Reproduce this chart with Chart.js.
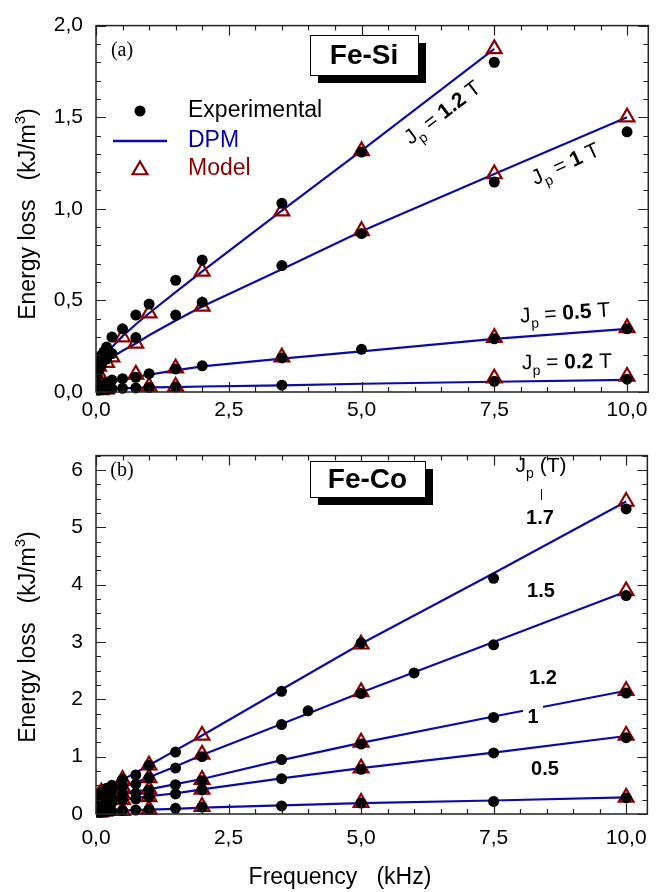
<!DOCTYPE html>
<html>
<head>
<meta charset="utf-8">
<script src="https://cdn.jsdelivr.net/npm/chart.js@4.4.0/dist/chart.umd.min.js"></script>
<style>
  html, body { margin: 0; padding: 0; background: #fff; }
  #wrap { position: relative; width: 659px; height: 892px; }
  canvas { position: absolute; left: 0; }
  #top { top: 0; }
  #bot { top: 430px; }
</style>
</head>
<body>
<div id="wrap">
  <canvas id="top" width="659" height="430" style="width:659px;height:430px"></canvas>
  <canvas id="bot" width="659" height="462" style="width:659px;height:462px"></canvas>
</div>
<script>
const FONT = '"Liberation Sans", Arial, Helvetica, sans-serif';
const BLUE = '#0c0ca4';
const RED = '#8b0000';

// ---------- (a) Fe-Si ----------
// experimental
const siF12exp = [0.02, 0.05, 0.1, 0.15, 0.2, 0.3, 0.5, 0.75, 1, 1.5, 2, 3.5, 5, 7.5];
const siE12exp = [0.12, 0.16, 0.2, 0.22, 0.245, 0.30, 0.345, 0.42, 0.48, 0.61, 0.72, 1.03, 1.31, 1.80];
const siF10exp = [0.02, 0.05, 0.1, 0.2, 0.3, 0.75, 1.5, 2, 3.5, 5, 7.5, 10];
const siE10exp = [0.09, 0.12, 0.15, 0.18, 0.21, 0.297, 0.42, 0.49, 0.69, 0.865, 1.146, 1.42];
const siF05exp = [0.02, 0.05, 0.1, 0.2, 0.3, 0.5, 0.75, 1, 1.5, 2, 3.5, 5, 7.5, 10];
const siE05exp = [0.02, 0.03, 0.04, 0.05, 0.065, 0.073, 0.08, 0.10, 0.126, 0.143, 0.186, 0.233, 0.29, 0.345];
const siF02exp = [0.05, 0.1, 0.2, 0.3, 0.5, 0.75, 1, 1.5, 3.5, 7.5, 10];
const siE02exp = [0.01, 0.012, 0.015, 0.018, 0.02, 0.022, 0.025, 0.027, 0.037, 0.058, 0.07];
// model
const siF12mod = [0.05, 0.5, 1, 2, 3.5, 5, 7.5];
const siE12mod = [0.14, 0.30, 0.43, 0.658, 0.987, 1.316, 1.873];
const siF10mod = [0.05, 0.2, 0.3, 0.75, 2, 5, 7.5, 10];
const siE10mod = [0.10, 0.16, 0.19, 0.265, 0.467, 0.88, 1.19, 1.50];
const siF05mod = [0.05, 0.1, 0.75, 1.5, 3.5, 7.5, 10];
const siE05mod = [0.035, 0.045, 0.096, 0.13, 0.19, 0.297, 0.35];
const siF02mod = [0.1, 0.2, 1, 1.5, 7.5, 10];
const siE02mod = [0.012, 0.015, 0.03, 0.03, 0.075, 0.085];
// DPM
const siFdpm = [0.02, 0.05, 0.1, 0.2, 0.3, 0.5, 0.75, 1, 1.5, 2, 3.5, 5, 7.5, 10];
const siE12dpm = [0.11, 0.14, 0.17, 0.21, 0.245, 0.305, 0.37, 0.43, 0.545, 0.658, 0.99, 1.318, 1.873];
const siE10dpm = [0.08, 0.10, 0.12, 0.16, 0.19, 0.225, 0.265, 0.31, 0.39, 0.467, 0.67, 0.878, 1.19, 1.50];
const siE05dpm = [0.02, 0.03, 0.04, 0.05, 0.058, 0.068, 0.082, 0.095, 0.118, 0.14, 0.182, 0.222, 0.29, 0.345];
const siE02dpm = [0.008, 0.01, 0.012, 0.015, 0.017, 0.02, 0.022, 0.025, 0.027, 0.03, 0.036, 0.045, 0.056, 0.066];

// ---------- (b) Fe-Co ----------
const coF17exp = [0.05, 0.1, 0.2, 0.3, 0.5, 0.75, 1, 1.5, 3.5, 5, 7.5, 10];
const coE17exp = [0.3, 0.37, 0.45, 0.5, 0.6, 0.68, 0.85, 1.08, 2.14, 2.98, 4.11, 5.32];
const coF15exp = [0.05, 0.1, 0.2, 0.3, 0.5, 0.75, 1, 1.5, 2, 3.5, 4, 5, 6, 7.5, 10];
const coE15exp = [0.24, 0.3, 0.36, 0.4, 0.47, 0.52, 0.63, 0.8, 1.0, 1.56, 1.8, 2.1, 2.46, 2.95, 3.81];
const coFexp = [0.05, 0.1, 0.2, 0.3, 0.5, 0.75, 1, 1.5, 2, 3.5, 5, 7.5, 10];
const coE12exp = [0.16, 0.2, 0.25, 0.28, 0.34, 0.36, 0.42, 0.51, 0.58, 0.95, 1.22, 1.685, 2.11];
const coE10exp = [0.11, 0.14, 0.18, 0.2, 0.25, 0.26, 0.3, 0.35, 0.42, 0.615, 0.78, 1.065, 1.33];
const coE05exp = [0.03, 0.035, 0.045, 0.05, 0.06, 0.07, 0.08, 0.1, 0.12, 0.14, 0.19, 0.22, 0.28];
const coFmod = [0.05, 0.1, 0.5, 1, 2, 5, 10];
const coE17mod = [0.32, 0.38, 0.6, 0.85, 1.37, 2.96, 5.45];
const coE15mod = [0.25, 0.3, 0.47, 0.63, 1.04, 2.13, 3.89];
const coE12mod = [0.17, 0.2, 0.34, 0.43, 0.6, 1.25, 2.15];
const coE10mod = [0.11, 0.14, 0.25, 0.3, 0.43, 0.8, 1.37];
const coE05mod = [0.03, 0.035, 0.06, 0.08, 0.13, 0.2, 0.29];
const coFdpm = [0.02, 0.05, 0.1, 0.2, 0.3, 0.5, 0.75, 1, 1.5, 2, 3.5, 5, 7.5, 10];
const coE17dpm = [0.2, 0.3, 0.37, 0.45, 0.5, 0.6, 0.72, 0.85, 1.11, 1.37, 2.17, 2.97, 4.2, 5.45];
const coE15dpm = [0.17, 0.24, 0.3, 0.36, 0.4, 0.46, 0.55, 0.64, 0.83, 1.03, 1.57, 2.12, 3.0, 3.88];
const coE12dpm = [0.12, 0.16, 0.2, 0.25, 0.28, 0.34, 0.39, 0.43, 0.52, 0.61, 0.94, 1.24, 1.7, 2.15];
const coE10dpm = [0.08, 0.11, 0.14, 0.18, 0.2, 0.25, 0.28, 0.31, 0.36, 0.43, 0.62, 0.8, 1.07, 1.36];
const coE05dpm = [0.02, 0.03, 0.035, 0.045, 0.05, 0.06, 0.07, 0.077, 0.09, 0.11, 0.15, 0.19, 0.235, 0.29];

const xTicks = [0, 2.5, 5, 7.5, 10];
const siYTicks = [0, 0.5, 1, 1.5, 2];
const coYTicks = [0, 1, 2, 3, 4, 5, 6];

function pts(xs, ys) {
  return ys.map((y, i) => ({x: xs[i], y: y}));
}

function expSet(xs, ys) {
  return {data: pts(xs, ys), pointStyle: 'circle', pointRadius: 5.5, pointBackgroundColor: '#000',
    pointBorderColor: '#000', pointBorderWidth: 0, showLine: false,
    clip: {left: 0, top: false, right: false, bottom: false}};
}
function modSet(xs, ys) {
  return {data: pts(xs, ys), pointStyle: 'triangle', pointRadius: 8.5, pointBackgroundColor: 'rgba(0,0,0,0)',
    pointBorderColor: RED, pointBorderWidth: 2.2, showLine: false,
    clip: {left: 0, top: false, right: false, bottom: false}};
}
function dpmSet(xs, ys) {
  return {data: pts(xs, ys), showLine: true, borderColor: BLUE, borderWidth: 2.2, pointRadius: 0,
    tension: 0, clip: 0};
}

function fmtComma(v) { return v.toFixed(1).replace('.', ','); }

// inward ticks + frame, minor ticks between the labelled ones
function framePlugin(minorX, majorX, minorY, majorY) {
  return {
    id: 'frame',
    afterDatasetsDraw(chart) {
      const {ctx, chartArea: a, scales: {x, y}} = chart;
      ctx.save();
      ctx.strokeStyle = '#222';
      ctx.lineWidth = 1.5;
      ctx.strokeRect(a.left, a.top, a.right - a.left, a.bottom - a.top);
      ctx.lineWidth = 1.2;
      ctx.beginPath();
      for (let i = 0; i * minorX <= x.max + 1e-9; i++) {
        const v = i * minorX;
        const px = Math.round(x.getPixelForValue(v)) + 0.5;
        const len = Math.abs(v / majorX - Math.round(v / majorX)) < 1e-6 ? 10 : 5;
        ctx.moveTo(px, a.bottom); ctx.lineTo(px, a.bottom - len);
        ctx.moveTo(px, a.top); ctx.lineTo(px, a.top + len);
      }
      for (let i = 0; i * minorY <= y.max + 1e-9; i++) {
        const v = i * minorY;
        const py = Math.round(y.getPixelForValue(v)) + 0.5;
        const len = Math.abs(v / majorY - Math.round(v / majorY)) < 1e-6 ? 10 : 5;
        ctx.moveTo(a.left, py); ctx.lineTo(a.left + len, py);
        ctx.moveTo(a.right, py); ctx.lineTo(a.right - len, py);
      }
      ctx.stroke();
      ctx.restore();
    }
  };
}

function txt(ctx, s, x, y, size, opt) {
  opt = opt || {};
  ctx.font = (opt.bold ? 'bold ' : '') + size + 'px ' + (opt.family || FONT);
  ctx.fillStyle = opt.color || '#000';
  ctx.textAlign = opt.align || 'left';
  ctx.textBaseline = 'middle';
  ctx.fillText(s, x, y);
}

// text made of pieces (subscripts, bold numbers), centred at cx,cy, rotated
function pieces(ctx, cx, cy, ang, parts) {
  ctx.save();
  ctx.translate(cx, cy);
  ctx.rotate(ang * Math.PI / 180);
  ctx.textBaseline = 'alphabetic';
  ctx.textAlign = 'left';
  ctx.fillStyle = '#000';
  let w = 0;
  parts.forEach(p => { ctx.font = (p.b ? 'bold ' : '') + p.s + 'px ' + FONT; w += ctx.measureText(p.t).width; });
  let x = -w / 2;
  parts.forEach(p => {
    ctx.font = (p.b ? 'bold ' : '') + p.s + 'px ' + FONT;
    ctx.fillText(p.t, x, 7.5 + (p.dy || 0));
    x += ctx.measureText(p.t).width;
  });
  ctx.restore();
}

function jpLabel(val) {
  return [{t: 'J', s: 21}, {t: 'p', s: 14, dy: 6}, {t: ' = ', s: 21}, {t: val, s: 21, b: true}, {t: ' T', s: 21}];
}

function yTitle(ctx, cx, cy) {
  pieces(ctx, cx, cy, -90, [{t: 'Energy loss   (kJ/m', s: 23}, {t: '3', s: 15, dy: -10}, {t: ')', s: 23}]);
}

function boxLabel(ctx, s, x0, y0, x1, y1) {
  ctx.save();
  ctx.fillStyle = '#000';
  ctx.fillRect(x0 + 8, y0 + 8, x1 - x0, y1 - y0);
  ctx.fillStyle = '#fff';
  ctx.fillRect(x0, y0, x1 - x0, y1 - y0);
  ctx.strokeStyle = '#000';
  ctx.lineWidth = 1;
  ctx.strokeRect(x0 + 0.5, y0 + 0.5, x1 - x0, y1 - y0);
  txt(ctx, s, (x0 + x1) / 2, (y0 + y1) / 2 + 1, 28, {bold: true, align: 'center'});
  ctx.restore();
}

const topDecor = {
  id: 'topDecor',
  afterDraw(chart) {
    const ctx = chart.ctx;
    ctx.save();
    yTitle(ctx, 27, 214);
    txt(ctx, '(a)', 122, 51, 20, {family: '"Liberation Serif", "Times New Roman", serif', align: 'center'});
    boxLabel(ctx, 'Fe-Si', 310, 35, 418, 75);
    // legend
    ctx.fillStyle = '#000';
    ctx.beginPath(); ctx.arc(140, 111, 5.5, 0, Math.PI * 2); ctx.fill();
    txt(ctx, 'Experimental', 188, 111, 23);
    ctx.strokeStyle = BLUE; ctx.lineWidth = 2.5;
    ctx.beginPath(); ctx.moveTo(113, 141); ctx.lineTo(167, 141); ctx.stroke();
    txt(ctx, 'DPM', 188, 141, 23, {color: '#0000aa'});
    const r = 8.5;
    ctx.strokeStyle = RED; ctx.lineWidth = 2.2;
    ctx.beginPath();
    for (let k = 0; k < 3; k++) {
      const ang = k * 2 * Math.PI / 3;
      const px = 140 + Math.sin(ang) * r, py = 170 - Math.cos(ang) * r;
      if (k === 0) ctx.moveTo(px, py); else ctx.lineTo(px, py);
    }
    ctx.closePath(); ctx.stroke();
    txt(ctx, 'Model', 188, 169, 23, {color: RED});
    // Jp labels
    pieces(ctx, 442, 112, -37.5, jpLabel('1.2'));
    pieces(ctx, 565, 163, -25, jpLabel('1'));
    pieces(ctx, 565, 312, -4, jpLabel('0.5'));
    pieces(ctx, 567, 361, -1, jpLabel('0.2'));
    ctx.restore();
  }
};

const botDecor = {
  id: 'botDecor',
  afterDraw(chart) {
    const ctx = chart.ctx;
    ctx.save();
    yTitle(ctx, 27, 207);
    txt(ctx, '(b)', 122, 41, 20, {family: '"Liberation Serif", "Times New Roman", serif', align: 'center'});
    boxLabel(ctx, 'Fe-Co', 310, 31, 425, 67);
    pieces(ctx, 541, 34, 0, [{t: 'J', s: 21}, {t: 'p', s: 14, dy: 6}, {t: ' (T)', s: 21}]);
    ctx.strokeStyle = '#000'; ctx.lineWidth = 1;
    ctx.beginPath(); ctx.moveTo(541.5, 59); ctx.lineTo(541.5, 70); ctx.stroke();
    txt(ctx, '1.7', 540, 88, 20, {bold: true, align: 'center'});
    txt(ctx, '1.5', 541, 161, 20, {bold: true, align: 'center'});
    txt(ctx, '1.2', 543, 248, 20, {bold: true, align: 'center'});
    ctx.fillStyle = '#fff';
    ctx.fillRect(523, 273, 20, 26);
    txt(ctx, '1', 533, 287, 20, {bold: true, align: 'center'});
    txt(ctx, '0.5', 545, 339, 20, {bold: true, align: 'center'});
    txt(ctx, 'Frequency   (kHz)', 340, 448, 23, {align: 'center'});
    ctx.restore();
  }
};

function makeChart(id, datasets, yMax, yStep, yFmt, padTop, xHeight, xPad, plugins) {
  return new Chart(document.getElementById(id), {
    type: 'scatter',
    data: {datasets: datasets},
    options: {
      responsive: false,
      animation: false,
      devicePixelRatio: 1,
      layout: {padding: {left: 0, right: 4, top: padTop, bottom: 0}},
      plugins: {legend: {display: false}, tooltip: {enabled: false}},
      scales: {
        x: {
          type: 'linear', min: 0, max: 10.4,
          grid: {display: false, drawTicks: false},
          border: {display: false},
          ticks: {stepSize: 2.5, includeBounds: false, maxRotation: 0, padding: xPad, color: '#000',
            font: {family: FONT, size: 21, lineHeight: 1.2},
            callback: v => xTicks.includes(v) ? fmtComma(v) : ''},
          afterFit: s => { s.height = xHeight; }
        },
        y: {
          type: 'linear', min: 0, max: yMax,
          grid: {display: false, drawTicks: false},
          border: {display: false},
          ticks: {stepSize: yStep, includeBounds: false, padding: 13, color: '#000',
            font: {family: FONT, size: 21, lineHeight: 1.2},
            callback: yFmt},
          afterFit: s => { s.width = 96; }
        }
      }
    },
    plugins: plugins
  });
}

const topSets = [
  expSet(siF12exp, siE12exp), expSet(siF10exp, siE10exp), expSet(siF05exp, siE05exp), expSet(siF02exp, siE02exp),
  modSet(siF12mod, siE12mod), modSet(siF10mod, siE10mod), modSet(siF05mod, siE05mod), modSet(siF02mod, siE02mod),
  dpmSet(siFdpm, siE12dpm), dpmSet(siFdpm, siE10dpm), dpmSet(siFdpm, siE05dpm), dpmSet(siFdpm, siE02dpm)
];
const botSets = [
  expSet(coF17exp, coE17exp), expSet(coF15exp, coE15exp), expSet(coFexp, coE12exp), expSet(coFexp, coE10exp), expSet(coFexp, coE05exp),
  modSet(coFmod, coE17mod), modSet(coFmod, coE15mod), modSet(coFmod, coE12mod), modSet(coFmod, coE10mod), modSet(coFmod, coE05mod),
  dpmSet(coFdpm, coE17dpm), dpmSet(coFdpm, coE15dpm), dpmSet(coFdpm, coE12dpm), dpmSet(coFdpm, coE10dpm), dpmSet(coFdpm, coE05dpm)
];

makeChart('top', topSets, 2, 0.5, v => siYTicks.includes(v) ? fmtComma(v) : '', 16, 38, 6,
  [framePlugin(0.5, 2.5, 0.1, 0.5), topDecor]);
makeChart('bot', botSets, 6.25, 1, v => coYTicks.includes(v) ? String(v) : '', 8, 78, 12,
  [framePlugin(0.5, 2.5, 0.25, 1), botDecor]);
</script>
</body>
</html>
